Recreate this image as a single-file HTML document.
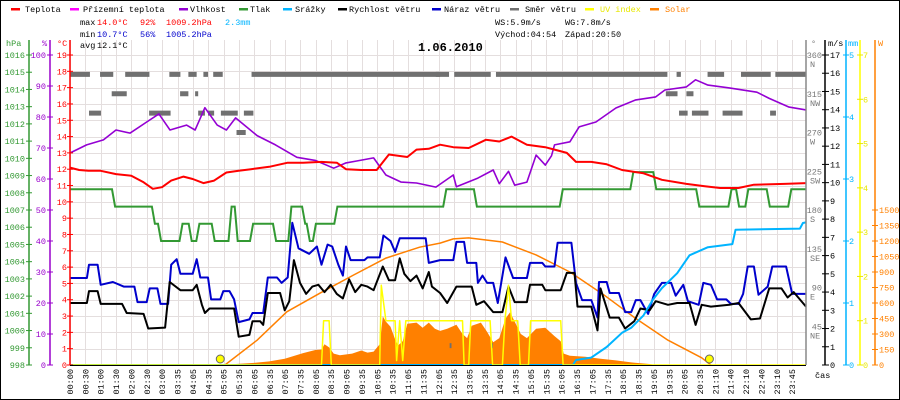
<!DOCTYPE html>
<html><head><meta charset="utf-8"><style>
html,body{margin:0;padding:0;background:#fff}
svg{display:block}
text{font-family:"Liberation Mono",monospace;font-size:8.5px}
</style></head><body>
<svg id="chart" width="900" height="400" xmlns="http://www.w3.org/2000/svg">
<rect x="0.5" y="0.5" width="899" height="399" fill="#fff" stroke="#000"/>
<g id="grid"></g>
<g id="series"></g>
<g id="axes"></g>
<g>
 <g><rect x="11" y="8" width="9" height="2.5" fill="#f00"/><text x="25" y="12">Teplota</text></g>
 <g><rect x="70" y="8" width="9" height="2.5" fill="#f0f"/><text x="83" y="12">Přízemní teplota</text></g>
 <g><rect x="179" y="8" width="9" height="2.5" fill="#9400d3"/><text x="190" y="12">Vlhkost</text></g>
 <g><rect x="239" y="8" width="9" height="2.5" fill="#339933"/><text x="250" y="12">Tlak</text></g>
 <g><rect x="283" y="8" width="9" height="2.5" fill="#00b4ff"/><text x="295" y="12">Srážky</text></g>
 <g><rect x="338" y="8" width="9" height="2.5" fill="#000"/><text x="349" y="12">Rychlost větru</text></g>
 <g><rect x="432" y="8" width="9" height="2.5" fill="#0000cc"/><text x="444" y="12">Náraz větru</text></g>
 <g><rect x="510" y="8" width="9" height="2.5" fill="#707070"/><text x="525" y="12">Směr větru</text></g>
 <g><rect x="585" y="8" width="9" height="2.5" fill="#ff0"/><text x="600" y="12" fill="#e8e800">UV index</text></g>
 <g><rect x="650" y="8" width="9" height="2.5" fill="#ff8000"/><text x="665" y="12" fill="#ff8000">Solar</text></g>
</g>
<g>
 <text x="80" y="25">max</text><text x="97" y="25" fill="#f00">14.0°C</text><text x="140" y="25" fill="#f00">92%</text><text x="166" y="25" fill="#f00">1009.2hPa</text><text x="225" y="25" fill="#00b4ff">2.3mm</text>
 <text x="80" y="37">min</text><text x="97" y="37" fill="#0000cc">10.7°C</text><text x="140" y="37" fill="#0000cc">56%</text><text x="166" y="37" fill="#0000cc">1005.2hPa</text>
 <text x="80" y="48">avg</text><text x="97" y="48">12.1°C</text>
 <text x="495" y="25">WS:5.9m/s</text><text x="565" y="25">WG:7.8m/s</text>
 <text x="495" y="37">Východ:04:54</text><text x="565" y="37">Západ:20:50</text>
</g>
<text x="418" y="51" style="font-size:12px;font-weight:bold">1.06.2010</text>
</svg>
<script>
const labels=["00:00","00:30","01:00","01:30","02:00","02:30","03:00","03:35","04:05","04:35","05:05","05:35","06:05","06:35","07:05","07:35","08:05","08:35","09:05","09:35","10:05","10:35","11:05","11:35","12:05","12:35","13:05","13:35","14:05","14:35","15:05","15:35","16:05","16:35","17:05","17:35","18:05","18:35","19:05","19:35","20:05","20:35","21:10","21:40","22:10","22:40","23:10","23:45"];
const tempT=[0,0.3,0.6,1.0,1.5,2.0,2.4,2.7,3.0,3.3,3.7,4.0,4.35,4.7,5.1,5.5,5.9,6.5,7.1,7.6,8.2,8.7,9.0,9.5,10.0,10.4,11.0,11.3,11.7,12.07,12.5,13.0,13.56,14.0,14.4,14.9,15.5,15.8,16.2,16.5,17.0,17.5,18.0,18.7,19.3,20.1,20.7,21.2,21.8,22.3,23.3,24];
const tempV=[12.1,11.95,11.9,11.9,11.7,11.6,11.2,10.8,10.9,11.3,11.55,11.4,11.15,11.3,11.8,11.9,12.0,12.15,12.4,12.4,12.45,12.4,12.0,11.95,11.95,12.9,12.75,13.2,13.25,13.5,13.35,13.3,13.8,13.7,14.0,13.5,13.35,13.2,13.0,12.45,12.45,12.3,11.95,11.75,11.35,11.1,10.95,10.85,10.85,11.05,11.1,11.15];
const humT=[0,0.54,1.09,1.5,1.96,2.5,2.9,3.26,3.8,4.08,4.4,4.8,5.1,5.4,6.1,6.7,7.4,8.0,8.6,9.0,9.35,9.9,10.3,10.8,11.3,11.93,12.5,12.6,13.3,13.8,14.0,14.3,14.5,14.9,15.2,15.5,15.7,15.8,16.3,16.6,17.15,17.8,18.45,19.1,19.4,20.1,20.4,20.8,21.5,22.4,22.8,23.45,24];
const humV=[68.4,71,72.6,75.8,74.8,78.4,81,75.8,77.4,75.8,83,77.4,75.8,79.7,74,71,67,66,63.5,65.2,65.8,66.8,61.3,59,58.7,57.4,61.3,57.5,60.3,62.9,58.5,62.5,58,59,67.7,64.5,67.5,71,72,76.8,78.4,82.9,85.5,86.5,88.7,89.7,92,90.3,89.4,88,86,83.2,82.3];
const presT=[0,1.45,2.75,2.95,3.65,3.95,4.2,4.7,5.25,5.45,5.95,6.7,7.2,7.65,7.8,8.0,8.7,12.25,13.25,16.05,18.35,19.1,20.5,21.55,21.8,22.1,22.8,23.5];
const presV=[1008.2,1007.2,1006.2,1005.2,1006.2,1005.2,1006.2,1005.2,1007.2,1005.2,1006.2,1005.2,1007.2,1006.2,1005.2,1006.2,1007.2,1008.2,1007.2,1008.2,1009.2,1008.2,1007.2,1008.2,1007.2,1008.2,1007.2,1008.2];
const gustT=[0,0.55,0.62,0.9,1.0,1.4,1.75,2.1,2.2,2.5,2.6,2.85,2.95,3.2,3.3,3.48,3.6,4.0,4.13,4.25,4.5,4.6,4.9,5.0,5.2,5.35,5.5,5.85,5.95,6.3,6.45,6.75,6.9,7.1,7.25,7.45,7.8,8.05,8.2,8.4,8.55,8.75,8.9,9.0,9.15,9.6,9.7,10.1,10.22,10.45,10.6,10.75,11.6,11.7,12.07,12.5,12.6,12.85,12.95,13.25,13.3,13.45,13.6,13.8,13.95,14.2,14.45,14.9,15.0,15.4,15.5,15.8,15.9,16.35,16.5,16.7,17.0,17.2,17.25,17.5,17.6,17.9,18.1,18.3,18.45,18.6,18.85,19.05,19.3,19.6,19.75,20.0,20.15,20.5,20.65,20.9,21.1,21.4,21.55,21.8,21.95,22.1,22.3,22.45,22.75,22.9,23.35,23.55,24];
const gustV=[4.77,4.77,5.5,5.5,4.4,4.55,4.3,4.3,3.45,3.45,4.2,4.2,3.35,3.35,5.5,5.8,5.0,5.0,5.8,4.8,4.8,3.6,3.6,4.05,4.05,3.6,2.35,2.5,2.85,2.85,4.8,4.8,4.5,4.8,7.8,6.4,6.1,6.5,5.5,6.6,6.5,5.5,4.9,6.5,5.75,5.75,5.9,5.9,7.1,6.8,6.2,6.95,6.95,5.6,5.75,5.75,6.75,6.75,5.6,5.6,4.5,4.9,4.5,4.5,3.4,5.9,4.77,4.77,5.6,5.6,5.4,5.4,6.7,6.7,4.5,3.56,3.56,2.6,4.55,4.55,3.95,3.95,2.9,2.9,3.56,3.56,2.8,3.9,4.5,4.5,3.8,4.4,3.5,3.3,4.5,4.4,3.6,3.6,3.35,3.35,3.9,5.4,5.4,3.85,4.3,5.4,5.4,3.9,3.9];
const windT=[0,0.55,0.62,0.9,1.0,1.7,1.85,2.4,2.55,3.1,3.25,3.6,4.0,4.13,4.3,4.4,4.55,5.35,5.5,5.85,5.95,6.2,6.3,6.45,6.85,7.0,7.15,7.3,7.5,7.7,7.9,8.1,8.3,8.5,8.7,8.9,9.1,9.3,9.5,9.7,9.9,10.2,10.4,10.6,10.75,10.9,11.1,11.3,11.5,11.7,11.8,12.07,12.3,12.6,13.1,13.25,13.5,13.8,14.1,14.3,14.5,14.9,15.0,15.4,15.5,16.0,16.2,16.45,16.55,17.0,17.2,17.3,17.6,17.9,18.1,18.4,18.6,18.9,19.1,19.5,19.8,20.2,20.4,20.6,20.9,21.5,21.8,22.2,22.5,22.8,23.2,23.4,23.6,24];
const windV=[3.4,3.4,4.05,4.05,3.35,3.35,2.85,2.8,2.0,2.05,4.55,4.1,4.1,4.4,3.3,2.85,3.1,3.1,1.55,1.65,2.4,2.4,2.2,3.95,3.95,3.0,3.5,5.75,4.5,3.9,4.3,4.4,4.0,4.4,3.9,3.65,4.7,4.0,4.4,4.3,4.1,5.4,4.65,4.65,5.85,5.0,4.6,4.9,4.2,5.1,4.3,3.95,3.4,4.3,4.3,3.3,3.5,2.9,2.9,4.3,3.45,3.45,4.4,4.4,4.1,4.1,5.05,5.05,3.2,3.2,1.9,4.2,2.6,2.6,2.0,2.4,3.1,3.0,3.5,3.3,3.4,3.4,2.2,3.3,3.2,3.3,3.4,2.5,2.55,4.2,4.2,3.7,4.0,3.2];
const rainT=[0,16.4,16.5,17.0,17.5,18.0,18.3,18.7,19.0,19.3,19.8,20.2,20.8,21.6,21.7,23.8,23.9,24];
const rainV=[0,0,0.08,0.12,0.29,0.52,0.6,0.8,1.05,1.24,1.48,1.77,1.9,1.95,2.18,2.2,2.29,2.3];
const uvT=[0,8.2,8.27,8.45,8.52,10.1,10.15,10.3,10.6,10.65,10.75,10.85,10.95,12.8,12.85,13.0,13.07,13.7,13.78,14.1,14.18,14.3,14.4,14.6,14.68,14.95,15.02,16.0,16.08,24];
const uvV=[0,0,1,1,0,0,1.8,1,1,0.1,1,0.1,1,1,0,0,1,1,0,0,1,1.8,1,1,0,0,1,1,0,0];
const solT=[5.3,5.4,6.0,6.5,7.0,7.6,8.0,8.2,8.3,8.45,8.6,8.8,9.2,9.5,9.7,9.9,10.1,10.2,10.3,10.45,10.6,10.7,10.85,11.0,11.3,11.5,11.7,11.9,12.07,12.3,12.6,12.8,12.95,13.1,13.4,13.6,13.8,14.0,14.2,14.35,14.5,14.7,14.9,15.2,15.5,15.8,16.0,16.1,16.3,16.8,17.3,17.8,18.3,18.9,19.1];
const solV=[0,10,20,35,60,115,145,150,200,170,110,95,110,140,120,130,200,470,420,370,250,190,230,400,410,360,410,350,330,350,390,300,260,380,410,320,220,260,450,510,420,300,260,350,360,280,230,110,90,80,60,45,25,10,0];
const sunT=[5.05,6.1,7.07,8.15,9.24,10.3,11.4,12.07,12.5,13.0,14.1,15.2,16.3,17.4,18.45,19.5,20.6,20.9];
const sunV=[0,240,515,695,870,1035,1140,1180,1220,1230,1190,1065,900,680,450,240,70,0];
const dirStart=[0,0.98,1.8,3.24,3.86,4.35,4.67,5.92,1.36,3.59,4.08,0.62,2.58,4.18,4.5,4.92,5.67,5.43,11.93,12.53,13.89,19.78,20.79,21.88,23.0,19.43,20.1,19.86,20.28,21.28,22.83,12.38,13.73];
const dirEnd=[0.65,1.41,2.59,3.6,4.13,4.5,4.98,12.07,1.85,3.86,4.18,1.01,3.28,4.4,4.7,5.47,5.98,5.73,12.36,13.72,19.48,19.92,21.33,22.85,24,19.81,20.33,20.14,20.82,21.93,23.02,12.44,13.79];
const dirDeg=[337.5,337.5,337.5,337.5,337.5,337.5,337.5,337.5,315,315,315,292.5,292.5,292.5,292.5,292.5,292.5,270,337.5,337.5,337.5,337.5,337.5,337.5,337.5,315,315,292.5,292.5,292.5,292.5,22.5,22.5];
const sunMarkT=[4.9,20.85];

const NS='http://www.w3.org/2000/svg';
const X0=70,X1=806,YB=365,YT=55;
const xT=t=>X0+t*(X1-X0)/24;
const yTemp=v=>YB-v*(YB-YT)/19;
const yHum=v=>YB-v*(YB-YT)/100;
const yPres=v=>YB-(v-998)*(YB-YT)/18;
const yWind=v=>YB-v*(YB-YT)/17;
const yRain=v=>YB-v*(YB-YT)/5;
const yUV=v=>YB-v*(YB-YT)/7;
const ySol=v=>YB-v*(155/1500);
const yDir=v=>YB-v*(YB-YT)/360;
function el(tag,attrs,parent){const e=document.createElementNS(NS,tag);for(const k in attrs)e.setAttribute(k,attrs[k]);parent.appendChild(e);return e;}
const grid=document.getElementById('grid'),ser=document.getElementById('series'),ax=document.getElementById('axes');
// grid
const step=(792.2-X0)/47;
for(let i=0;i<labels.length;i++){const x=Math.round(X0+i*step)+0.5;const g=el('line',{x1:x,x2:x,y1:40,y2:YB,stroke:'#e4dede'},grid);

}
for(let v=1;v<=19;v++){const y=Math.round(yTemp(v))+0.5;const g=el('line',{x1:X0,x2:X1,y1:y,y2:y,stroke:'#e4dede'},grid);

}
function pts(T,V,fx,fy){return T.map((t,i)=>fx(t).toFixed(1)+','+fy(V[i]).toFixed(1)).join(' ');}
function line(T,V,fy,color,w,name){const p=el('polyline',{points:pts(T,V,xT,fy),fill:'none',stroke:color,'stroke-width':w,'stroke-linejoin':'round'},ser);

return p;}
// solar actual fill
{const p=el('polygon',{points:xT(solT[0]).toFixed(1)+','+YB+' '+pts(solT,solV,xT,ySol)+' '+xT(solT[solT.length-1]).toFixed(1)+','+YB,fill:'#ff8000'},ser);

}
// direction
for(let i=0;i<dirStart.length;i++){const y=yDir(dirDeg[i]);const r=el('rect',{x:xT(dirStart[i]),y:y-2.5,width:Math.max(1.5,xT(dirEnd[i])-xT(dirStart[i])),height:5,fill:'#707070'},ser);

}
// pressure step
{let P=[];for(let i=0;i<presT.length;i++){const t=presT[i];if(i>0)P.push([t-0.08,presV[i-1]]);P.push([t+(i>0?0.02:0),presV[i]]);}P.push([24,presV[presV.length-1]]);
const p=el('polyline',{points:P.map(a=>xT(a[0]).toFixed(1)+','+yPres(a[1]).toFixed(1)).join(' '),fill:'none',stroke:'#339933','stroke-width':2},ser);

}
line(humT,humV,yHum,'#9400d3',1.6,'humidity-line');
line(tempT,tempV,yTemp,'#f00',2,'temperature-line');
line(sunT,sunV,ySol,'#ff8000',1.5,'solar-theoretical-line');
line(gustT,gustV,yWind,'#0000cc',2,'wind-gust-line');
line(windT,windV,yWind,'#000',2,'wind-speed-line');
line(rainT,rainV,yRain,'#00b4ff',2,'rain-line');
line(uvT,uvV,yUV,'#ffff00',1.5,'uv-index-line');
for(const t of sunMarkT){const c=el('circle',{cx:xT(t),cy:359,r:4,fill:'#ff0',stroke:'#666','stroke-width':1},ser);

}
// axes
function vline(x,y1,y2,c,name){const l=el('line',{x1:x,x2:x,y1:y1,y2:y2,stroke:c,'stroke-width':1.5},ax);

}
function txt(x,y,s,c,anchor,name){const t=el('text',{x:x,y:y,fill:c,'text-anchor':anchor||'start'},ax);t.textContent=s;

return t;}
function tick(x1,x2,y,c){el('line',{x1:x1,x2:x2,y1:y,y2:y,stroke:c,'stroke-width':1},ax);}
vline(29,40,YB,'#339933','pressure-axis');vline(50,40,YB,'#9900cc','humidity-axis');vline(70,40,YB,'#f00','temperature-axis');
txt(6,46,'hPa','#339933','start','pressure-axis-title');txt(42,46,'%','#9900cc','start','humidity-axis-title');txt(57,46,'°C','#f00','start','temperature-axis-title');
for(let v=998;v<=1016;v++){const y=yPres(v);tick(26,32,y,'#339933');txt(25,y+3,String(v),'#339933','end','pressure-tick-label');}
for(let v=0;v<=100;v+=10){const y=yHum(v);tick(47,53,y,'#9900cc');txt(46,y+3,String(v),'#9900cc','end','humidity-tick-label');}
for(let v=0;v<=19;v++){const y=yTemp(v);tick(67,73,y,'#f00');txt(67,y+3,String(v),'#f00','end','temperature-tick-label');}
// right axes
vline(806,40,YB,'#888','direction-axis');vline(825,40,YB,'#000','wind-axis');vline(846,40,YB,'#00b4ff','rain-axis');vline(860,40,YB,'#ff0','uv-axis');vline(875,40,YB,'#ff8000','solar-axis');
txt(811,46,'°','#777','start','direction-axis-title');txt(828,46,'m/s','#000','start','wind-axis-title');txt(848,46,'mm','#00b4ff','start','rain-axis-title');txt(878,46,'W','#ff8000','start','solar-axis-title');
const dirNames=['','NE','E','SE','S','SW','W','NW','N'];
for(let k=1;k<=8;k++){const v=k*45;const y=yDir(v);txt(822,y+3,String(v),'#777','end','direction-tick-label');txt(810,y+12,dirNames[k],'#777','start','direction-tick-name');}
for(let v=0;v<=17;v++){const y=yWind(v);tick(822,829,y,'#000');txt(830,y+3,String(v),'#000','start','wind-tick-label');}
for(let v=0;v<=5;v++){const y=yRain(v);tick(843,849,y,'#00b4ff');txt(849,y+3,String(v),'#00b4ff','start','rain-tick-label');}
for(let v=0;v<=7;v++){const y=yUV(v);tick(857,863,y,'#e8e800');txt(863,y+3,String(v),'#e8e800','start','uv-tick-label');}
for(let v=0;v<=1500;v+=150){const y=ySol(v);tick(872,878,y,'#ff8000');txt(879,y+3,String(v),'#ff8000','start','solar-tick-label');}
{const b=el('line',{x1:X0,x2:X1,y1:YB+0.5,y2:YB+0.5,stroke:'#000','stroke-width':1},ax);

}
for(let i=0;i<labels.length;i++){const x=X0+i*step;const t=el('text',{x:0,y:0,transform:'translate('+(x+3)+',369) rotate(-90)','text-anchor':'end',fill:'#000'},ax);t.textContent=labels[i];

}
txt(815,378,'čas','#000','start','x-axis-title');
</script>
</body></html>
